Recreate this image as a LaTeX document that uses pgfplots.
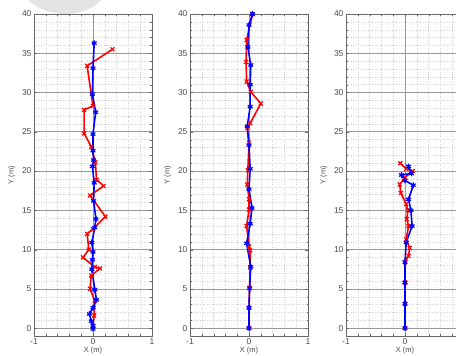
\documentclass[border=0pt]{standalone}
\usepackage{fontspec}
\setmainfont{Liberation Sans}
\usepackage{pgfplots}
\pgfplotsset{compat=1.18}
\definecolor{mred}{RGB}{255,0,0}
\definecolor{mblue}{RGB}{0,0,255}
\pgfplotsset{
  panel/.style={
    scale only axis, width=118pt, height=322pt,
    xmin=-1, xmax=1, ymin=-1, ymax=40,
    xtick={-1,0,1}, ytick={0,5,...,40},
    minor x tick num=4, minor y tick num=4,
    grid=both,
    major grid style={gray!80, line width=0.7pt},
    minor grid style={gray!35, dotted, line width=0.4pt},
    axis line style={gray!80!black, line width=0.9pt},
    tick style={gray!80!black},
    tick align=inside,
    major tick length=3pt, minor tick length=1.5pt,
    /pgf/number format/assume math mode=true,
    tick label style={font=\fontsize{8.5}{9}\selectfont, text=black!70},
    label style={font=\fontsize{7.5}{8}\selectfont, text=black!70},
    xlabel={X (m)}, ylabel={Y (m)},
    xlabel style={yshift=4pt},
    ylabel style={yshift=0pt},
    xticklabel style={yshift=1pt},
    yticklabel style={xshift=1pt},
    clip=true,
  },
  red path/.style={mred, line width=1.6pt, mark=x, mark size=2.8pt, mark options={line width=1.2pt}},
  blue path/.style={mblue, line width=1.6pt, mark=asterisk, mark size=2.8pt, mark options={line width=1.2pt}},
}
\begin{document}
\begin{tikzpicture}
\useasboundingbox (0,0) rectangle (456pt,356pt);
\clip (0,0) rectangle (456pt,356pt);
\fill[gray!22] (65pt,378pt) ellipse [x radius=46pt, y radius=36pt];
% Panel 1
\begin{axis}[panel, at={(34pt,20pt)}, anchor=south west]
\addplot[red path] coordinates {
(0,0.3) (0.02,1.6) (0.03,3.5) (-0.05,5.0) (-0.03,6.7) (0.12,7.6) (0.03,7.8)
(-0.17,9.0) (-0.07,10.0) (-0.1,12.0) (0,12.6) (0.21,14.2) (-0.05,16.9)
(0.18,18.1) (0.06,18.9) (0.04,21.1) (-0.03,23.1) (-0.15,24.8) (-0.15,27.8)
(0,28.3) (-0.1,33.4) (0.33,35.5)};
\addplot[blue path] coordinates {
(0,-0.1) (0.0,0.3) (-0.03,0.9) (-0.06,1.8) (0.0,2.6) (0.06,3.6) (0.03,4.9)
(-0.02,7.5) (-0.01,8.7) (0,9.7) (-0.02,10.9) (0.03,12.8) (0.05,13.9)
(0.01,16.2) (0.02,18.5) (-0.01,20.6) (0.01,21.4) (0,22.6) (0,24.7)
(0.045,27.5) (-0.01,29.8) (0,33.1) (0.02,36.3)};
\end{axis}
% Panel 2
\begin{axis}[panel, at={(190pt,20pt)}, anchor=south west]
\addplot[red path] coordinates {
(0,0) (0,2.6) (0.01,5.1) (0.02,7.7) (0.02,9.9) (0.0,10.4) (-0.04,13.0)
(0.0,15.1) (0.0,16.4) (-0.03,18.3) (-0.02,20.1) (0,23.6) (-0.03,25.5)
(0.02,26.1) (0.2,28.6) (0.03,30.1) (-0.04,31.4) (-0.05,33.9) (-0.04,36.7)
(0.06,40)};
\addplot[blue path] coordinates {
(0,0) (0,2.6) (0.01,5.1) (0.03,7.8) (-0.04,10.8) (0.02,13.3) (0.05,15.3)
(0,17.7) (0.02,20.3) (0,23.3) (-0.03,25.7) (0.02,28.2) (0.02,31.0)
(0.03,33.5) (-0.02,35.8) (0,38.6) (0.06,40)};
\end{axis}
% Panel 3 (right edge cut off in the reference)
\begin{axis}[panel, at={(346pt,20pt)}, anchor=south west, xticklabels={-1,0,{}}]
\addplot[red path] coordinates {
(0,0) (0,3.1) (0,5.8) (0.0,8.4) (0.06,9.2) (0.08,10.2) (0.02,11.3)
(0.06,13.0) (0.03,13.9) (0.05,15.0) (0.02,15.8) (-0.07,17.2) (-0.09,18.3)
(0.0,19.2) (0.13,20.0) (0.02,20.3) (-0.08,21.0)};
\addplot[blue path] coordinates {
(0,0) (0,3.1) (0,5.8) (0,8.4) (0.02,10.9) (0.12,13.0) (0.1,15.0)
(0.06,16.4) (0.14,18.2) (0.0,18.8) (-0.06,19.5) (0.11,19.7) (0.06,20.6)};
\end{axis}
\end{tikzpicture}
\end{document}
